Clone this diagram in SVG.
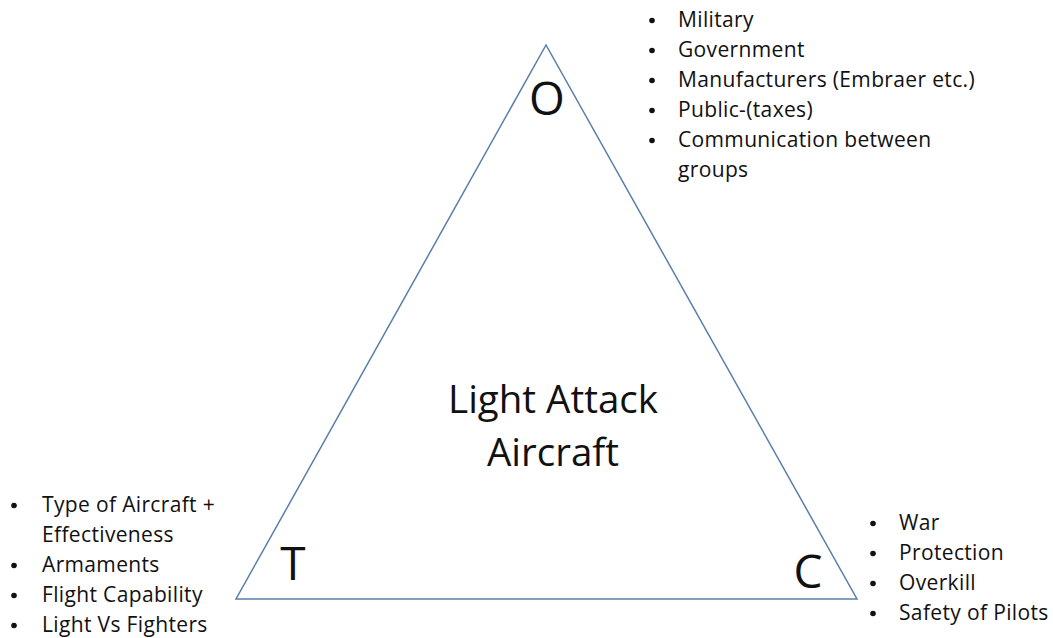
<svg xmlns="http://www.w3.org/2000/svg" width="1053" height="638" viewBox="0 0 1053 638">
<style>
text{font-family:"Open Sans",Lato,"Liberation Sans",sans-serif;fill:#111;}
.li{font-size:21px;letter-spacing:0.35px;}
.big{font-size:46px;}
.mid{font-size:38.5px;}
.dot{fill:#111;}
</style>
<rect width="1053" height="638" fill="#fff"/>
<g id="connectors">
<polygon points="546,45 236,599 857,599" fill="none" stroke="#5a7ea8" stroke-width="1.5"/>
</g>
<g id="center"><text class="mid" x="553" y="413" text-anchor="middle">Light Attack</text><text class="mid" x="553" y="466" text-anchor="middle">Aircraft</text></g>
<g id="O"><text class="big" x="547" y="115" text-anchor="middle">O</text></g>
<g id="T"><text class="big" x="293" y="580" text-anchor="middle">T</text></g>
<g id="C"><text class="big" x="808" y="588" text-anchor="middle">C</text></g>
<g id="O-list">
<circle class="dot" cx="652" cy="20.5" r="2.8"/><text class="li" x="678" y="27">Military</text>
<circle class="dot" cx="652" cy="50.5" r="2.8"/><text class="li" x="678" y="57">Government</text>
<circle class="dot" cx="652" cy="80.5" r="2.8"/><text class="li" x="678" y="87">Manufacturers (Embraer etc.)</text>
<circle class="dot" cx="652" cy="110.5" r="2.8"/><text class="li" x="678" y="117">Public-(taxes)</text>
<circle class="dot" cx="652" cy="140.5" r="2.8"/><text class="li" x="678" y="147">Communication between</text>
<text class="li" x="678" y="177">groups</text>
</g>
<g id="T-list">
<circle class="dot" cx="14" cy="505.5" r="2.8"/><text class="li" x="42" y="512">Type of Aircraft +</text>
<text class="li" x="42" y="542">Effectiveness</text>
<circle class="dot" cx="14" cy="565.5" r="2.8"/><text class="li" x="42" y="572">Armaments</text>
<circle class="dot" cx="14" cy="595.5" r="2.8"/><text class="li" x="42" y="602">Flight Capability</text>
<circle class="dot" cx="14" cy="625.5" r="2.8"/><text class="li" x="42" y="632">Light Vs Fighters</text>
</g>
<g id="C-list">
<circle class="dot" cx="873" cy="523.5" r="2.8"/><text class="li" x="899" y="530">War</text>
<circle class="dot" cx="873" cy="553.5" r="2.8"/><text class="li" x="899" y="560">Protection</text>
<circle class="dot" cx="873" cy="583.5" r="2.8"/><text class="li" x="899" y="590">Overkill</text>
<circle class="dot" cx="873" cy="613.5" r="2.8"/><text class="li" x="899" y="620">Safety of Pilots</text>
</g>
</svg>
